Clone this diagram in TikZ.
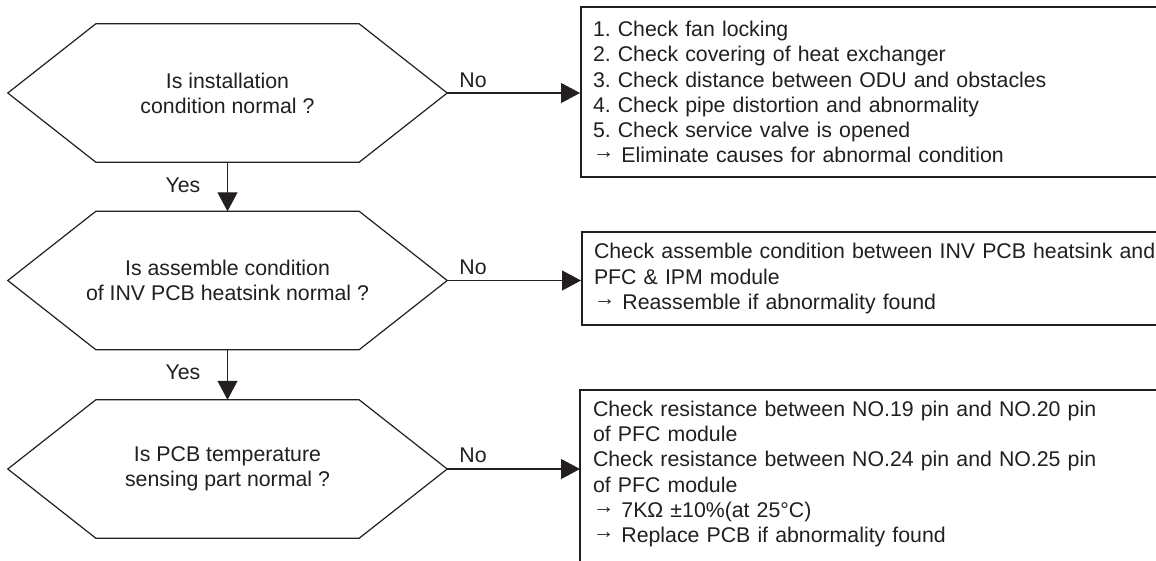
\documentclass[tikz,border=0pt]{standalone}
\usepackage{fontspec}
\setmainfont{Liberation Sans}
\usetikzlibrary{arrows.meta,calc}
\definecolor{ink}{HTML}{231F20}
\newcommand{\myarr}{\raisebox{0.35ex}{→}}
\begin{document}
\frenchspacing
\begin{tikzpicture}[x=1pt,y=-1pt,
  every node/.style={font=\fontsize{21.3}{25.2}\selectfont, text=ink},
  hexnode/.style={minimum width=439pt, minimum height=138pt, inner sep=0pt, align=center, draw=none},
  hexline/.style={line width=1.2pt, draw=ink, line join=miter},
  actbox/.style={draw=ink, line width=2pt, minimum width=600pt, text width=588pt, inner xsep=12pt, inner ysep=0pt, align=left},
  conn/.style={line width=1.2pt, draw=ink, -{Triangle[length=19pt,width=20pt]}},
  lbl/.style={inner sep=0pt}
]
\clip (0,0) rectangle (1156,560);
\fill[white] (0,0) rectangle (1156,560);

% decision nodes
\node[hexnode] (h1) at (227.5,93) {Is installation\\condition normal ?};
\node[hexnode] (h2) at (227.5,280.5) {Is assemble condition\\of INV PCB heatsink normal ?};
\node[hexnode] (h3) at (227.5,469) {Is PCB temperature\\sensing part normal ?};

\foreach \h in {h1,h2,h3}{
  \draw[hexline] (\h.west) -- ($(\h.north west)+(88,0)$) -- ($(\h.north east)+(-88,0)$) -- (\h.east)
    -- ($(\h.south east)+(-88,0)$) -- ($(\h.south west)+(88,0)$) -- cycle;
}

% action boxes
\node[actbox, minimum height=170pt, anchor=west] (b1) at (580,92) {1. Check fan locking\\
2. Check covering of heat exchanger\\
3. Check distance between ODU and obstacles\\
4. Check pipe distortion and abnormality\\
5. Check service valve is opened\\
\myarr{} Eliminate causes for abnormal condition};

\node[actbox, minimum height=93pt, anchor=west] (b2) at (581,278.5) {Check assemble condition between INV PCB heatsink and\\
PFC \& IPM module\\
\myarr{} Reassemble if abnormality found};

\node[actbox, draw=none, minimum height=166pt, anchor=north west] (b3) at (580,390) {Check resistance between NO.19 pin and NO.20 pin\\
of PFC module\\
Check resistance between NO.24 pin and NO.25 pin\\
of PFC module\\
\myarr{} 7KΩ ±10\%(at 25°C)\\
\myarr{} Replace PCB if abnormality found};
\draw[draw=ink, line width=2pt] (b3.north west) rectangle ($(b3.south east)+(0,30)$);

% connectors
\draw[conn] (h1.east) -- (h1.east -| b1.west);
\draw[conn] (h2.east) -- (h2.east -| b2.west);
\draw[conn] (h3.east) -- (h3.east -| b3.west);
\draw[conn] (h1.south) -- (h2.north);
\draw[conn] (h2.south) -- (h3.north);

% labels
\node[lbl] (n1) at (473,80) {No};
\node[lbl] (n2) at (473,267) {No};
\node[lbl] (n3) at (473,455) {No};
\node[lbl] (y1) at (183,185) {Yes};
\node[lbl] (y2) at (183,372) {Yes};
\end{tikzpicture}
\end{document}
